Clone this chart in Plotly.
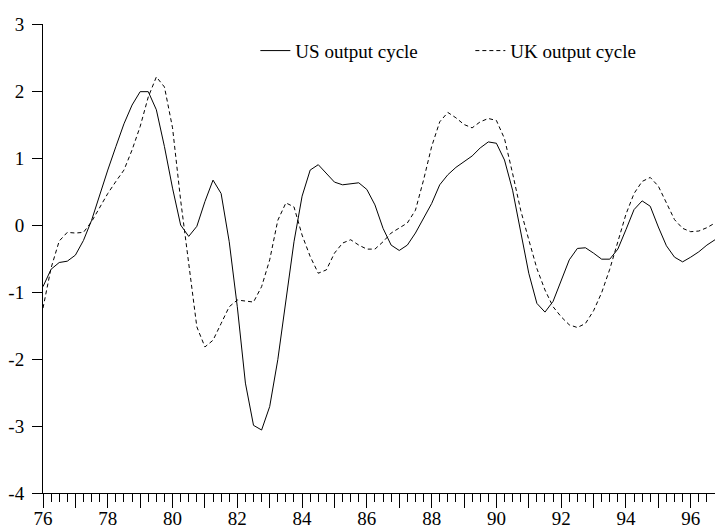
import plotly.graph_objects as go

quarters_per_year = 4

us_cycle = [
    -0.92, -0.66, -0.56, -0.54, -0.45, -0.23, 0.07, 0.45, 0.82, 1.17,
    1.51, 1.79, 1.99, 1.99, 1.72, 1.17, 0.55, 0.00, -0.17, -0.02,
    0.35, 0.67, 0.47, -0.25, -1.22, -2.36, -2.99, -3.06, -2.71, -2.01,
    -1.14, -0.25, 0.43, 0.82, 0.90, 0.77, 0.64, 0.60, 0.62, 0.63,
    0.53, 0.30, -0.05, -0.30, -0.38, -0.30, -0.12, 0.10, 0.32, 0.60,
    0.75, 0.86, 0.94, 1.03, 1.15, 1.24, 1.22, 0.97, 0.52, -0.12,
    -0.72, -1.17, -1.30, -1.14, -0.82, -0.52, -0.35, -0.34, -0.42, -0.51,
    -0.51, -0.36, -0.07, 0.23, 0.36, 0.28, -0.03, -0.31, -0.48, -0.55,
    -0.48, -0.40, -0.30, -0.22,
]

uk_cycle = [
    -1.24, -0.64, -0.24, -0.11, -0.12, -0.11, 0.05, 0.27, 0.47, 0.65,
    0.82, 1.12, 1.47, 1.91, 2.21, 2.06, 1.45, 0.37, -0.62, -1.52,
    -1.82, -1.72, -1.47, -1.22, -1.12, -1.14, -1.15, -0.92, -0.52, 0.07,
    0.33, 0.27, -0.15, -0.47, -0.72, -0.67, -0.42, -0.27, -0.22, -0.30,
    -0.36, -0.36, -0.25, -0.12, -0.05, 0.03, 0.22, 0.67, 1.17, 1.54,
    1.68, 1.60, 1.50, 1.45, 1.54, 1.59, 1.56, 1.29, 0.77, 0.22,
    -0.22, -0.65, -0.97, -1.22, -1.37, -1.49, -1.53, -1.47, -1.28, -1.01,
    -0.66, -0.26, 0.16, 0.47, 0.65, 0.71, 0.58, 0.33, 0.08, -0.05,
    -0.10, -0.09, -0.04, 0.03,
]

year_ticks = list(range(76, 97))
year_labels = [str(y) if y % 2 == 0 else "" for y in year_ticks]
y_ticks = [3, 2, 1, 0, -1, -2, -3, -4]
y_labels = ["3", "2", "1", "0", "-1", "-2", "-3", "-4"]

x = [76 + i / quarters_per_year for i in range(len(us_cycle))]

FONT = "Liberation Serif, Times New Roman, serif"

fig = go.Figure()
fig.add_trace(go.Scatter(
    x=x, y=us_cycle, mode="lines", name="US output cycle",
    line=dict(color="black", width=1, dash="solid"),
))
fig.add_trace(go.Scatter(
    x=x, y=uk_cycle, mode="lines", name="UK output cycle",
    line=dict(color="black", width=1, dash="4px,3px"),
))

fig.update_layout(
    width=715, height=529,
    margin=dict(l=43, r=0, t=24, b=36),
    paper_bgcolor="white", plot_bgcolor="white",
    font=dict(family=FONT, size=19, color="black"),
    showlegend=True,
    legend=dict(
        orientation="h", x=0.316, y=0.943, xanchor="left", yanchor="middle",
        bgcolor="rgba(0,0,0,0)", font=dict(family=FONT, size=19),
        entrywidth=170, entrywidthmode="pixels",
    ),
    xaxis=dict(
        range=[76, 96.75], showgrid=False, zeroline=False, automargin=False,
        showline=True, linecolor="black", linewidth=1,
        tickmode="array", tickvals=year_ticks, ticktext=year_labels,
        ticks="outside", ticklen=14, tickcolor="black", tickwidth=1,
        minor=dict(dtick=0.25, tick0=76, ticks="outside", ticklen=8,
                   tickcolor="black", tickwidth=1, showgrid=False),
        tickfont=dict(family=FONT, size=19),
        ticklabelstandoff=-6,
    ),
    yaxis=dict(
        range=[-4, 3], showgrid=False, zeroline=False, automargin=False,
        showline=True, linecolor="black", linewidth=1,
        tickmode="array", tickvals=y_ticks, ticktext=y_labels,
        ticks="outside", ticklen=10, tickcolor="black", tickwidth=1,
        tickfont=dict(family=FONT, size=19),
        ticklabelstandoff=4,
    ),
)

fig.write_html(
    "out.html",
    config={"displayModeBar": False},
    post_script="document.body.style.margin='0px';document.body.style.overflow='hidden';",
)
